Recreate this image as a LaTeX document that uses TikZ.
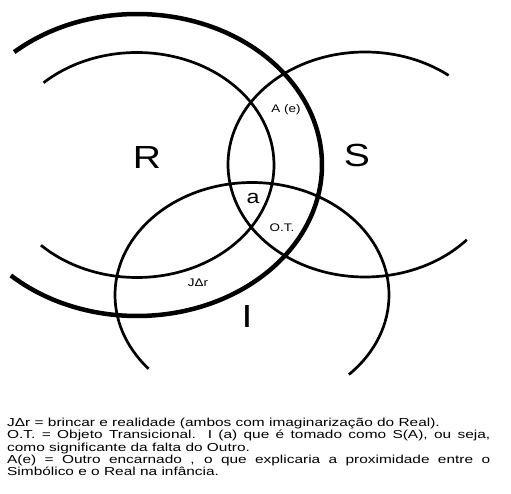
\documentclass[tikz,border=0pt]{standalone}
\usepackage{fontspec}
\setmainfont{Liberation Sans}
\newfontfamily\widefont[FakeStretch=1.22]{Liberation Sans}
\newfontfamily\capfont[FakeStretch=1.33]{Liberation Sans}
\begin{document}
\begin{tikzpicture}[x=1pt,y=1pt,
  ring/.style={line width=2.7pt},
  thickring/.style={line width=4.5pt},
  biglabel/.style={font=\widefont\fontsize{32}{32}\selectfont, inner sep=0pt},
  midlabel/.style={font=\widefont\fontsize{19}{19}\selectfont, inner sep=0pt},
  smalllabel/.style={font=\widefont\fontsize{11}{12}\selectfont, inner sep=0pt},
  captext/.style={font=\capfont\fontsize{11.6}{12.2}\selectfont, align=justify, text width=483pt, inner sep=0pt}]
\useasboundingbox (0,0) rectangle (511,493);
% centres
\coordinate (cR) at (137,328);
\coordinate (cS) at (365,328.5);
\coordinate (cI) at (252,198);
% thick outer Real ring
\draw[thickring] ([shift={(131.6:185 and 151)}]cR) arc[start angle=131.6, end angle=-133, x radius=185, y radius=151];
% inner Real ring
\draw[ring] ([shift={(133:137 and 112.5)}]cR) arc[start angle=133, end angle=-134.5, x radius=137, y radius=112.5];
% Symbolic ring
\draw[ring] ([shift={(52.4:137 and 112.5)}]cS) arc[start angle=52.4, end angle=318, x radius=137, y radius=112.5];
% Imaginary ring
\draw[ring] ([shift={(-45:137 and 112.5)}]cI) arc[start angle=-45, end angle=221, x radius=137, y radius=112.5];
% labels
\node[biglabel] (R) at (147,336) {R};
\node[biglabel] (S) at (357,338) {S};
\node[biglabel] (I) at (247,177) {I};
\node[midlabel] (a) at (253,295) {a};
\node[smalllabel] (Ae) at (286,383) {A (e)};
\node[smalllabel] (OT) at (282,265) {O.T.};
\node[smalllabel] (J) at (198,210) {JΔr};
% caption
\node[captext, anchor=north west] (cap) at (7,75) {\hbadness=10000 JΔr = brincar e realidade (ambos com imaginarização do Real).\\
O.T. = Objeto Transicional. I (a) que é tomado como S(A), ou seja,\linebreak
como significante da falta do Outro.\\
A(e) = Outro encarnado , o que explicaria a proximidade entre o\linebreak
Simbólico e o Real na infância.};
\end{tikzpicture}
\end{document}
